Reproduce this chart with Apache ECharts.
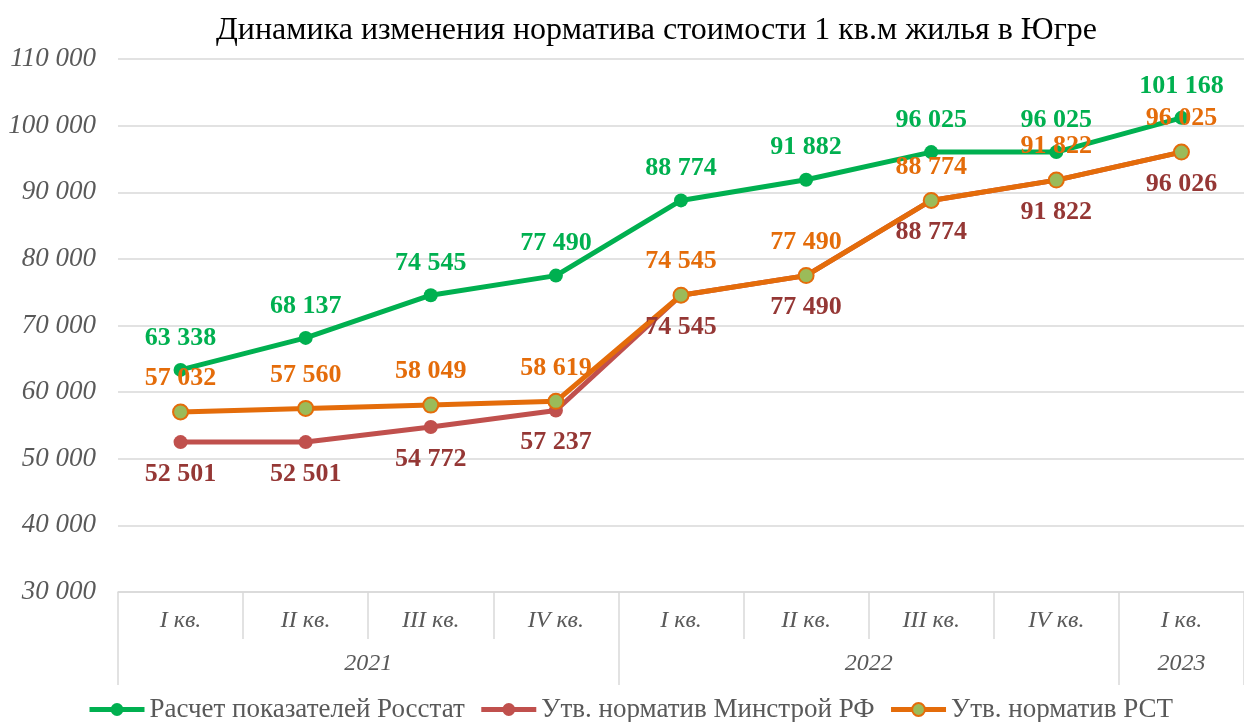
<!DOCTYPE html>
<html><head><meta charset="utf-8">
<script src="https://cdn.jsdelivr.net/npm/echarts@6/dist/echarts.min.js"></script>
<style>html,body{margin:0;padding:0;background:#fff}#c{width:1244px;height:722px}</style>
</head><body><div id="c"></div>
<script>
var quarters = ['I кв.', 'II кв.', 'III кв.', 'IV кв.', 'I кв.', 'II кв.', 'III кв.', 'IV кв.', 'I кв.'];
var years = ['2021', '2022', '2023'];
var yearStarts = [0, 4, 8, 9];
var yearCenters = [2, 6, 8.5];
var rosstat = [63338, 68137, 74545, 77490, 88774, 91882, 96025, 96025, 101168];
var minstroy = [52501, 52501, 54772, 57237, 74545, 77490, 88774, 91822, 96026];
var rst = [57032, 57560, 58049, 58619, 74545, 77490, 88774, 91822, 96025];
var seriesNames = ['Расчет показателей Росстат', 'Утв. норматив Минстрой РФ', 'Утв. норматив РСТ'];

var serif = '"Liberation Serif", "DejaVu Serif", serif';
function fmt(v) { return String(Math.round(v)).replace(/\B(?=(\d{3})+(?!\d))/g, ' '); }

var chart = echarts.init(document.getElementById('c'));
chart.setOption({
  backgroundColor: '#fff',
  animation: false,
  title: {
    text: 'Динамика изменения норматива стоимости 1 кв.м жилья в Югре',
    left: 216, top: 15, padding: 0,
    textStyle: { fontFamily: serif, fontSize: 32, fontWeight: 'normal', color: '#000' }
  },
  legend: {
    bottom: -6, left: 82, itemWidth: 55, itemHeight: 16, itemGap: 14,
    lineStyle: { width: 5 },
    textStyle: { fontFamily: serif, fontSize: 27, color: '#595959' },
    data: seriesNames
  },
  grid: { left: 118, right: -8, top: 59, bottom: 130, containLabel: false },
  xAxis: [{
    type: 'category', data: quarters, position: 'bottom', boundaryGap: true,
    axisLine: { show: true, lineStyle: { color: '#d9d9d9', width: 1.5 } },
    axisTick: { show: true, alignWithLabel: false, length: 47, lineStyle: { color: '#d9d9d9', width: 1.5 } },
    axisLabel: { margin: 17, fontFamily: serif, fontSize: 24, fontStyle: 'italic', color: '#595959' }
  }, {
    type: 'value', min: 0, max: 9, position: 'bottom',
    axisLine: { show: false },
    splitLine: { show: false },
    axisTick: { show: true, length: 93, customValues: yearStarts, lineStyle: { color: '#d9d9d9', width: 1.5 } },
    axisLabel: {
      margin: 60, customValues: yearCenters, fontFamily: serif, fontSize: 24, fontStyle: 'italic', color: '#595959',
      formatter: function (v) { var i = yearCenters.indexOf(v); return i >= 0 ? years[i] : ''; }
    }
  }],
  yAxis: {
    type: 'value', min: 30000, max: 110000, interval: 10000,
    axisLine: { show: false }, axisTick: { show: false },
    splitLine: { lineStyle: { color: '#d9d9d9', width: 1.5 } },
    axisLabel: { margin: 22, fontFamily: serif, fontSize: 27, fontStyle: 'italic', color: '#595959', formatter: fmt }
  },
  series: [{
    name: seriesNames[0], type: 'line', data: rosstat, xAxisIndex: 0,
    symbol: 'circle', symbolSize: 14,
    lineStyle: { color: '#00b050', width: 5 },
    itemStyle: { color: '#00b050' },
    label: { show: true, position: 'top', distance: 12, formatter: function (p) { return fmt(p.value); },
      fontFamily: serif, fontSize: 26, fontWeight: 'bold', color: '#00b050' }
  }, {
    name: seriesNames[1], type: 'line', data: minstroy, xAxisIndex: 0,
    symbol: 'circle', symbolSize: 14,
    lineStyle: { color: '#c0504d', width: 5 },
    itemStyle: { color: '#c0504d' },
    label: { show: true, position: 'bottom', distance: 12, formatter: function (p) { return fmt(p.value); },
      fontFamily: serif, fontSize: 26, fontWeight: 'bold', color: '#953735' }
  }, {
    name: seriesNames[2], type: 'line', data: rst, xAxisIndex: 0,
    symbol: 'circle', symbolSize: 15,
    lineStyle: { color: '#e46c0a', width: 5 },
    itemStyle: { color: '#9bbb59', borderColor: '#e46c0a', borderWidth: 2 },
    label: { show: true, position: 'top', distance: 12, formatter: function (p) { return fmt(p.value); },
      fontFamily: serif, fontSize: 26, fontWeight: 'bold', color: '#e46c0a' }
  }]
});
</script></body></html>
